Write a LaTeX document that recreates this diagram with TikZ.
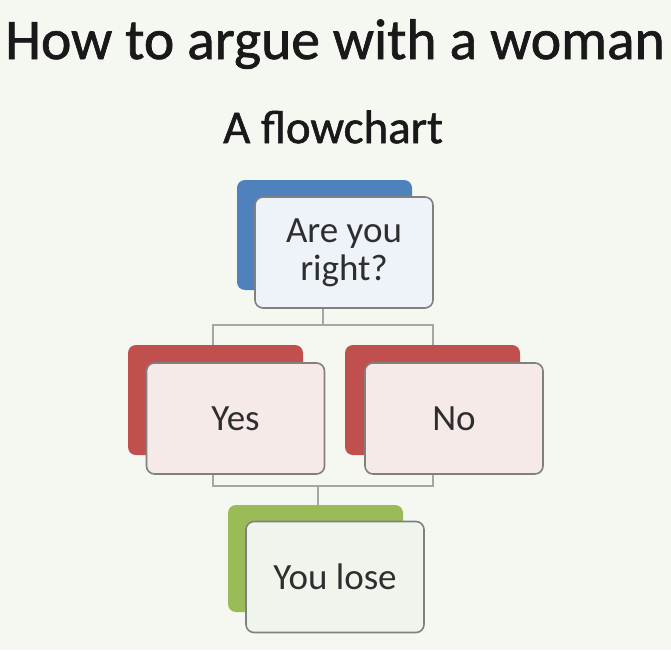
\documentclass[tikz,border=0pt]{standalone}
\usepackage{fontspec}
\setmainfont{Carlito}
\newfontfamily\headfont[FakeBold=1.2]{Carlito}
\definecolor{bg}{HTML}{F4F8F1}
\definecolor{cblue}{HTML}{4F81BD}
\definecolor{cred}{HTML}{C0504D}
\definecolor{cgreen}{HTML}{9BBB59}
\definecolor{fblue}{HTML}{EEF3F9}
\definecolor{fred}{HTML}{F6EAE9}
\definecolor{fgreen}{HTML}{EFF4EC}
\definecolor{edgegray}{HTML}{808080}
\definecolor{linegray}{HTML}{A6A6A6}
\definecolor{inkgray}{HTML}{2E2E2E}
\begin{document}
\begin{tikzpicture}[x=1pt,y=-1pt,
  backbox/.style={rounded corners=8pt},
  frontbox/.style={draw=edgegray,line width=1.6pt,rounded corners=8pt,inner sep=0pt,minimum width=178pt,minimum height=111pt,font=\fontsize{37}{38}\selectfont,align=center,text=inkgray},
  conn/.style={draw=linegray,line width=2pt}]
\useasboundingbox (0,0) rectangle (671,650);
\fill[bg] (0,0) rectangle (671,650);
\node[text=black!90] (title) at (335,44) {\headfont\fontsize{57.5}{60}\selectfont How to argue with a woman};
\node[text=black!90] (sub) at (333,127) {\headfont\fontsize{47}{50}\selectfont A flowchart};
% back boxes
\fill[cblue,backbox] (237,180) rectangle (412,290);
\fill[cred,backbox] (128,345) rectangle (303,455);
\fill[cred,backbox] (345,345) rectangle (520,455);
\fill[cgreen,backbox] (228,505) rectangle (403,612);
% front boxes
\node[frontbox,fill=fblue] (q) at (344,252.5) {Are you\\right?};
\node[frontbox,fill=fred] (yes) at (235.5,418.5) {Yes};
\node[frontbox,fill=fred] (no) at (454,418.5) {No};
\node[frontbox,fill=fgreen] (lose) at (335,577) {You lose};
% connectors
\coordinate (j1) at (323,325);
\coordinate (j2) at (318,486);
\draw[conn] (q.south -| j1) -- (j1);
\draw[conn] (213,345) -- (213,325) -- (433,325) -- (433,345);
\draw[conn] (213,475) -- (213,486) -- (433,486) -- (433,475);
\draw[conn] (j2) -- (318,505);
\end{tikzpicture}
\end{document}
